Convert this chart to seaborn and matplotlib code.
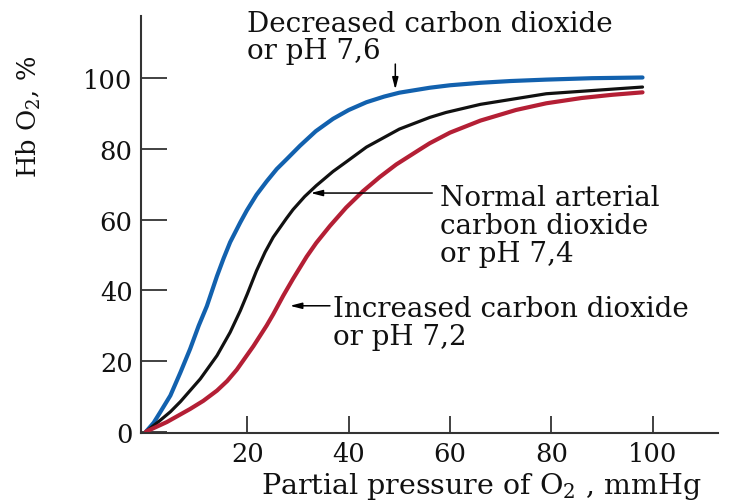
import pandas as pd
import matplotlib.pyplot as plt
import seaborn as sns


# Values -----------------------------------------------------------------------

po2_decreased = [0, 1.5, 2.8, 4.8, 6.8, 8.7, 10.4, 12, 14, 15.3, 16.6, 18.6, 19.9,
                 21.8, 23.8, 25.8, 27.7, 30.4, 33.5, 36.9, 40, 43.5, 47, 50, 56,
                 60, 66, 72, 79, 88, 98]
hbo2_decreased = [0, 2.5, 5.5, 10.2, 16.8, 23.4, 30, 35.5, 44, 49, 53.6, 59.2, 62.6,
                  67, 70.8, 74.3, 77, 80.9, 85, 88.5, 91, 93.2, 94.8, 95.9, 97.3,
                  98, 98.7, 99.2, 99.6, 100, 100.2]

po2_normal = [0, 2.8, 4.8, 6.8, 10.7, 14, 16.6, 18.6, 20, 21.8, 23.5, 25.1, 27.7, 29,
              31.3, 33.6, 36.9, 39.5, 43.5, 50, 56, 59.2, 66, 79, 98]
hbo2_normal = [0, 3.2, 5.6, 8.5, 14.9, 21.5, 28.1, 34.2, 39, 45.5, 50.8, 55, 60.3, 62.8,
               66.5, 69.6, 73.6, 76.3, 80.5, 85.6, 88.9, 90.3, 92.6, 95.6, 97.5]

po2_increased = [0, 4.1, 8.7, 11.3, 14, 16, 17.9, 21.2, 23.8, 25.1, 27.1, 29, 31.7,
                 33.6, 36.3, 39.5, 42.8, 46.1, 49.4, 54, 56, 60, 66, 73, 79, 86, 92, 98]
hbo2_increased = [0, 2.7, 6.4, 8.7, 11.6, 14.3, 17.5, 24.2, 30, 33.2, 38.5, 43.2, 49.5,
                  53.4, 58.2, 63.4, 68, 72, 75.6, 79.8, 81.6, 84.6, 88, 91, 92.9, 94.4,
                  95.3, 96]

x_ticks = [20, 40, 60, 80, 100]
y_ticks = [0, 20, 40, 60, 80, 100]

curves = [
    (po2_decreased, hbo2_decreased, "#1261ae", 3.0),
    (po2_normal, hbo2_normal, "#111111", 2.3),
    (po2_increased, hbo2_increased, "#b41f35", 3.0),
]


# Plot ------------------------------------------------------------------------

sns.set_style("ticks")
plt.rcParams["font.family"] = ["DejaVu Serif"]
plt.rcParams["mathtext.fontset"] = "dejavuserif"
plt.rcParams["text.color"] = "#111111"
plt.rcParams["axes.labelcolor"] = "#111111"

fig = plt.figure(figsize=(7.32, 5.02), dpi=100)
ax = fig.add_axes([141 / 732, 1 - 434 / 502, 577 / 732, 417 / 502])

for xs, ys, color, lw in curves:
    df = pd.DataFrame({"po2": xs, "hbo2": ys})
    sns.lineplot(data=df, x="po2", y="hbo2", color=color, linewidth=lw,
                 sort=False, estimator=None, ax=ax)

ax.set_xlim(-1, 112.9)
ax.set_ylim(-0.4, 117.6)
ax.set_xticks(x_ticks)
ax.set_yticks(y_ticks)
ax.tick_params(axis="y", direction="in", length=19, width=1.3, labelsize=18.5, pad=6,
               color="#333333", labelcolor="#111111")
ax.tick_params(axis="x", direction="in", length=12, width=1.3, labelsize=18.5, pad=6,
               color="#333333", labelcolor="#111111")
for side in ["top", "right"]:
    ax.spines[side].set_visible(False)
for side in ["left", "bottom"]:
    ax.spines[side].set_linewidth(1.5)
    ax.spines[side].set_color("#333333")

ax.set_xlabel("Partial pressure of O$_2$ , mmHg", fontsize=20.5)
ax.set_ylabel("Hb O$_2$, %", fontsize=18.5)
ax.xaxis.set_label_coords(0.59, -0.088)
ax.yaxis.set_label_coords(-0.17, 0.76)

arrow = dict(arrowstyle="-|>,head_length=0.7,head_width=0.18", color="black",
             lw=1.1, shrinkA=0, shrinkB=0)

ax.text(19.9, 111.6, "Decreased carbon dioxide\nor pH 7,6", fontsize=20,
        ha="left", va="center", linespacing=0.98)
ax.annotate("", xy=(49.2, 96.8), xytext=(49.2, 104), arrowprops=arrow)

ax.annotate("", xy=(32.5, 67.5), xytext=(56.5, 67.5), arrowprops=arrow)
ax.text(58, 58.4, "Normal arterial\ncarbon dioxide\nor pH 7,4", fontsize=20,
        ha="left", va="center", linespacing=1.05)

ax.annotate("", xy=(28.4, 35.6), xytext=(36.3, 35.6), arrowprops=arrow)
ax.text(36.9, 30.9, "Increased carbon dioxide\nor pH 7,2", fontsize=20,
        ha="left", va="center", linespacing=1.02)

fig.savefig("out.png", dpi=100)
